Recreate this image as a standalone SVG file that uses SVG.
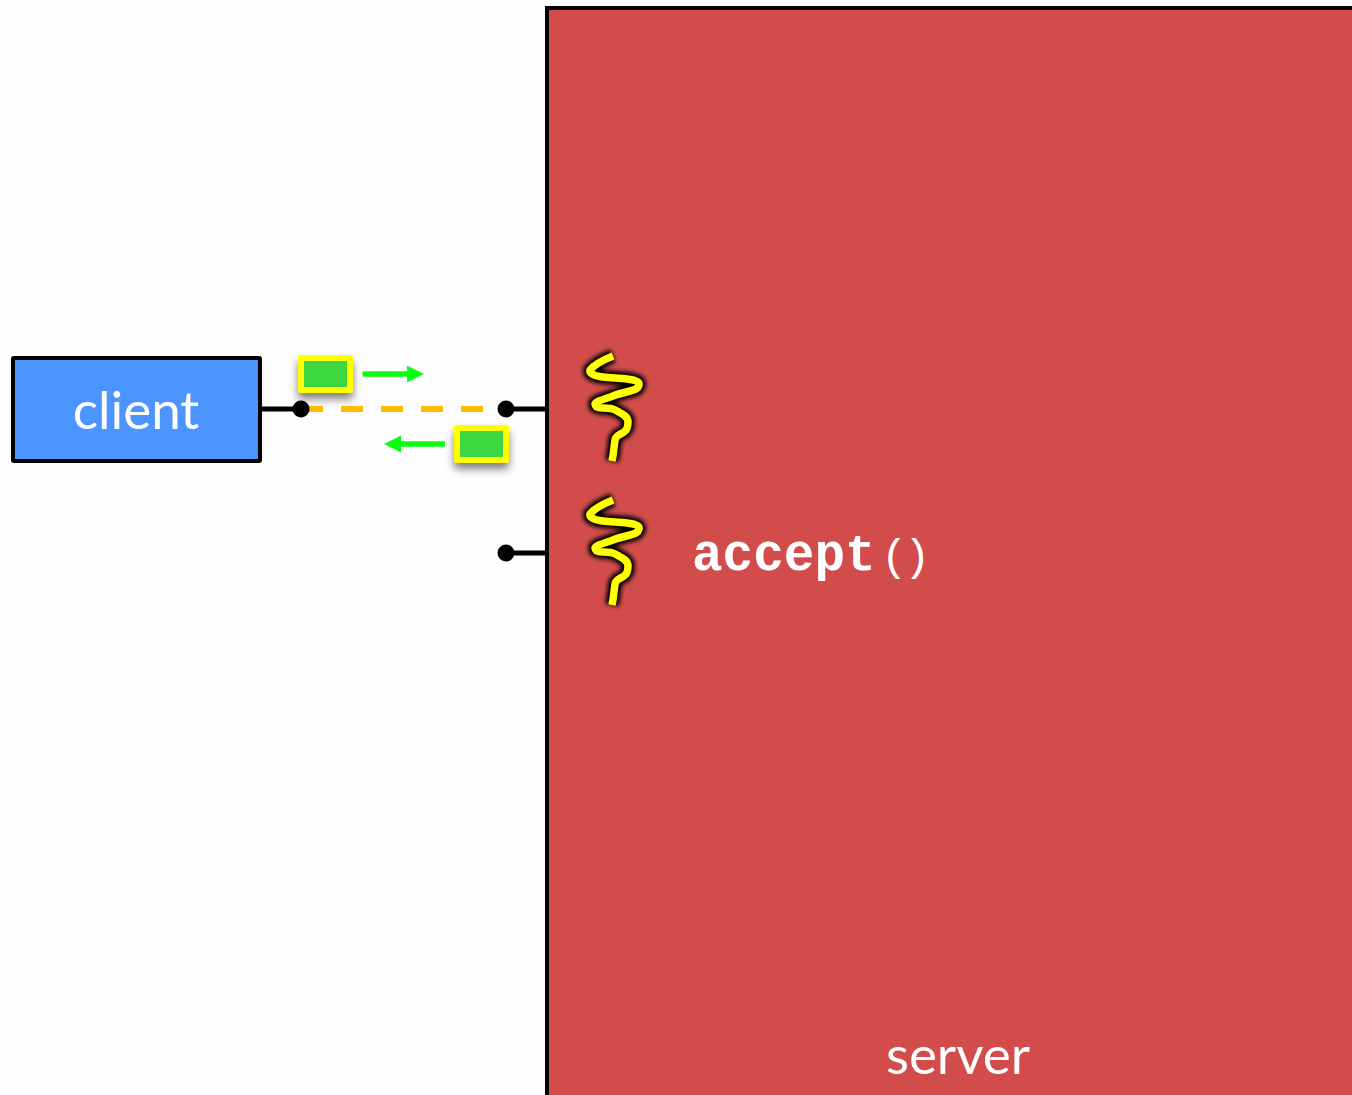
<svg xmlns="http://www.w3.org/2000/svg" width="1352" height="1095" viewBox="0 0 1352 1095">
<style>
.lbl{font-family:"Lato","Open Sans",sans-serif;font-size:53px;fill:#fff;text-anchor:middle}
.code{font-family:"Liberation Mono",monospace;font-size:51px;fill:#fff}
.paren{font-size:44px;letter-spacing:-3.4px}
.wire{stroke:#000;stroke-width:5;fill:none}
.dot{fill:#000}
.pkt{fill:#3dd63f;stroke:#ffff00;stroke-width:6;stroke-linejoin:round;filter:url(#sh)}
.flow{stroke:#0cff12;stroke-width:5.5;fill:none;marker-end:url(#ah)}
.sqk{fill:none;stroke-linecap:butt;stroke-linejoin:round}
</style>
<defs>
<filter id="sh" x="-30%" y="-30%" width="160%" height="190%"><feDropShadow dx="0" dy="6" stdDeviation="4.5" flood-color="#000" flood-opacity="0.5"/></filter>
<filter id="gl" x="-30%" y="-30%" width="160%" height="160%"><feGaussianBlur stdDeviation="2"/></filter>
<marker id="ah" markerUnits="userSpaceOnUse" markerWidth="18" markerHeight="18" refX="0" refY="8.5" orient="auto"><path d="M0 0L17 8.5L0 17Z" fill="#0cff12"/></marker>
<path id="sq" d="M613 356C603 360 594 365 590 370C589 374 595 376 603 377C612 378 620 378 627 379C634 380 640 381 639 385C638 389 635 390 630 391C622 393 618 394 613 396C605 399 596 401 595 404C595 407 599 408 603 408C609 408 613 408 617 411C622 414 628 416 628 422C628 427 627 430 624 432C620 435 616 435 615 440C614 446 614 452 612 461"/>
</defs>
<rect width="1352" height="1095" fill="#fefefe"/>
<g id="server">
<rect x="547" y="8" width="809" height="1091" fill="#d24c4c" stroke="#000" stroke-width="4"/>
<text class="lbl" x="958" y="1074">server</text>
</g>
<g id="client">
<rect x="13" y="358" width="247" height="103" fill="#4c94ff" stroke="#000" stroke-width="4" rx="1"/>
<text class="lbl" x="136" y="429">client</text>
</g>
<g id="connectors">
<path class="wire" d="M260 409H301"/>
<path d="M301 409H483" stroke="#ffbb00" stroke-width="6" stroke-dasharray="22 18" fill="none"/>
<path class="wire" d="M506 409H547M506 553H547"/>
<circle class="dot" cx="301" cy="409" r="8.5"/>
<circle class="dot" cx="506" cy="409" r="8.5"/>
<circle class="dot" cx="506" cy="553" r="8.5"/>
<path class="flow" d="M362.500 374H407"/>
<path class="flow" d="M445 444H401"/>
</g>
<g id="packet-out"><rect class="pkt" x="301" y="358" width="49" height="32"/></g>
<g id="packet-in"><rect class="pkt" x="457" y="428" width="49" height="32"/></g>
<g id="thread-1">
<use href="#sq" class="sqk" stroke="#000" stroke-width="14" filter="url(#gl)"/>
<use href="#sq" class="sqk" stroke="#ffff00" stroke-width="7.500"/>
</g>
<g id="thread-2" transform="translate(0 144)">
<use href="#sq" class="sqk" stroke="#000" stroke-width="14" filter="url(#gl)"/>
<use href="#sq" class="sqk" stroke="#ffff00" stroke-width="7.500"/>
</g>
<g id="accept-label">
<text class="code" x="692" y="570"><tspan font-weight="700">accept</tspan><tspan class="paren" x="881">()</tspan></text>
</g>
</svg>
